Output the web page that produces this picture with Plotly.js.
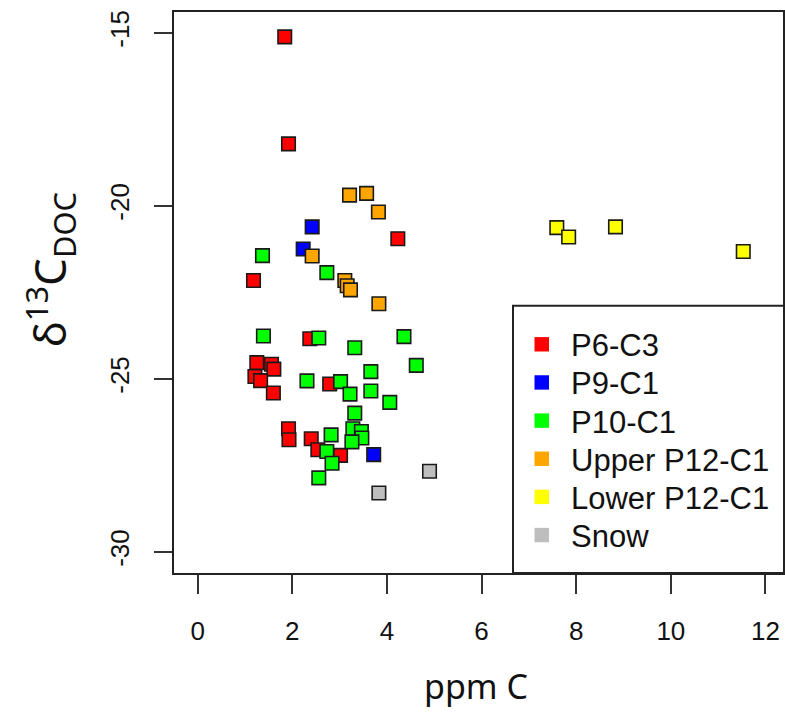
<!DOCTYPE html>
<html>
<head>
<meta charset="utf-8">
<script src="https://cdn.plot.ly/plotly-3.0.1.min.js"></script>
<style>
html,body{margin:0;padding:0;background:#fff;}
#chart{width:785px;height:717px;}
</style>
</head>
<body>
<div id="chart"></div>
<script>
// Series data (ppm C, delta13C DOC)
const groupNames = ["P6-C3", "P9-C1", "P10-C1", "Upper P12-C1", "Lower P12-C1", "Snow"];
const groupColors = ["#FF0000", "#0000FF", "#00FF00", "#FFA500", "#FFFF00", "#BEBEBE"];

const p6c3_x = [1.84, 1.92, 4.23, 1.18, 2.37, 1.25, 1.56, 1.61, 1.21, 1.33, 1.60, 2.79, 1.92, 1.93, 2.40, 2.54, 3.02];
const p6c3_y = [-15.12, -18.21, -20.95, -22.16, -23.84, -24.53, -24.58, -24.72, -24.93, -25.05, -25.41, -25.15, -26.44, -26.76, -26.73, -27.05, -27.21];

const p9c1_x = [2.42, 2.23, 3.72];
const p9c1_y = [-20.61, -21.25, -27.19];

const p10c1_x = [1.37, 2.73, 1.39, 2.56, 3.32, 4.36, 4.62, 3.66, 2.31, 3.02, 3.22, 3.66, 4.06, 3.32, 3.28, 3.46, 3.47, 2.82, 3.26, 2.73, 2.84, 2.56];
const p10c1_y = [-21.44, -21.93, -23.76, -23.82, -24.10, -23.78, -24.61, -24.79, -25.06, -25.08, -25.44, -25.35, -25.68, -25.99, -26.44, -26.52, -26.71, -26.62, -26.82, -27.10, -27.44, -27.86];

const upperP12_x = [3.21, 3.57, 3.82, 2.42, 3.11, 3.16, 3.23, 3.83];
const upperP12_y = [-19.69, -19.64, -20.18, -21.45, -22.16, -22.31, -22.43, -22.83];

const lowerP12_x = [7.59, 7.84, 8.83, 11.53];
const lowerP12_y = [-20.63, -20.90, -20.61, -21.32];

const snow_x = [4.90, 3.83];
const snow_y = [-27.67, -28.30];

const xTicks = [0, 2, 4, 6, 8, 10, 12];
const yTicks = [-15, -20, -25, -30];

const seriesX = [p6c3_x, p9c1_x, p10c1_x, upperP12_x, lowerP12_x, snow_x];
const seriesY = [p6c3_y, p9c1_y, p10c1_y, upperP12_y, lowerP12_y, snow_y];

const traces = [];
for (let i = 0; i < groupNames.length; i++) {
  traces.push({
    type: 'scatter', mode: 'markers', x: seriesX[i], y: seriesY[i],
    name: groupNames[i], showlegend: false, hoverinfo: 'x+y',
    marker: {symbol: 'square', size: 13.5, color: groupColors[i], line: {color: '#1a1a1a', width: 1.6}}
  });
}

// plot-area geometry helpers (pixel -> paper)
const M = {l: 174, r: 2, t: 12, b: 144};
const PW = 785 - M.l - M.r, PH = 717 - M.t - M.b;
const px = v => (v - M.l) / PW;
const py = v => (717 - M.b - v) / PH;

const tickFont = {family: 'Liberation Sans, Arial, sans-serif', size: 26, color: '#111'};

// legend (box, swatches and labels)
const shapes = [{
  type: 'rect', xref: 'paper', yref: 'paper', layer: 'above',
  x0: px(513), x1: 1.2, y0: 0, y1: py(305.7),
  line: {color: '#222', width: 2}, fillcolor: 'rgba(255,255,255,0)'
}];
const annotations = [];
for (let i = 0; i < groupNames.length; i++) {
  const cy = 344.3 + i * 38.15;
  shapes.push({
    type: 'rect', xref: 'paper', yref: 'paper', layer: 'above',
    x0: px(534.5), x1: px(549), y0: py(cy + 7.2), y1: py(cy - 7.2),
    line: {width: 0}, fillcolor: groupColors[i]
  });
  annotations.push({
    xref: 'paper', yref: 'paper', x: px(569), y: py(cy + 1.5),
    xanchor: 'left', yanchor: 'middle', showarrow: false,
    text: groupNames[i],
    font: {family: 'Liberation Sans, Arial, sans-serif', size: 31, color: '#111'}
  });
}
annotations.push({
  xref: 'paper', yref: 'paper', x: px(50), y: py(270),
  xanchor: 'center', yanchor: 'middle', textangle: -90, showarrow: false,
  text: 'δ<sup>13</sup>C<sub>DOC</sub>',
  font: {family: 'Noto Sans, sans-serif', size: 44, color: '#111'}
}, {
  xref: 'paper', yref: 'paper', x: px(476), y: py(686),
  xanchor: 'center', yanchor: 'middle', showarrow: false,
  text: 'ppm C',
  font: {family: 'Noto Sans, sans-serif', size: 34, color: '#111'}
});

const layout = {
  width: 785, height: 717,
  margin: M,
  paper_bgcolor: '#fff', plot_bgcolor: '#fff',
  showlegend: false,
  xaxis: {
    range: [-0.5, 12.37], tickvals: xTicks, ticktext: xTicks.map(String),
    showgrid: false, zeroline: false, showline: true, mirror: true,
    linecolor: '#222', linewidth: 2,
    ticks: 'outside', ticklen: 19, tickwidth: 2, tickcolor: '#333',
    tickfont: tickFont, ticklabelstandoff: 15
  },
  yaxis: {
    range: [-30.61, -14.40], tickvals: yTicks, ticktext: yTicks.map(String),
    showgrid: false, zeroline: false, showline: true, mirror: true,
    linecolor: '#222', linewidth: 2,
    ticks: 'outside', ticklen: 18, tickwidth: 2, tickcolor: '#333',
    tickfont: tickFont, tickangle: -90, ticklabelstandoff: 15
  },
  shapes: shapes,
  annotations: annotations
};

Plotly.newPlot('chart', traces, layout, {displayModeBar: false, staticPlot: true});
</script>
</body>
</html>
